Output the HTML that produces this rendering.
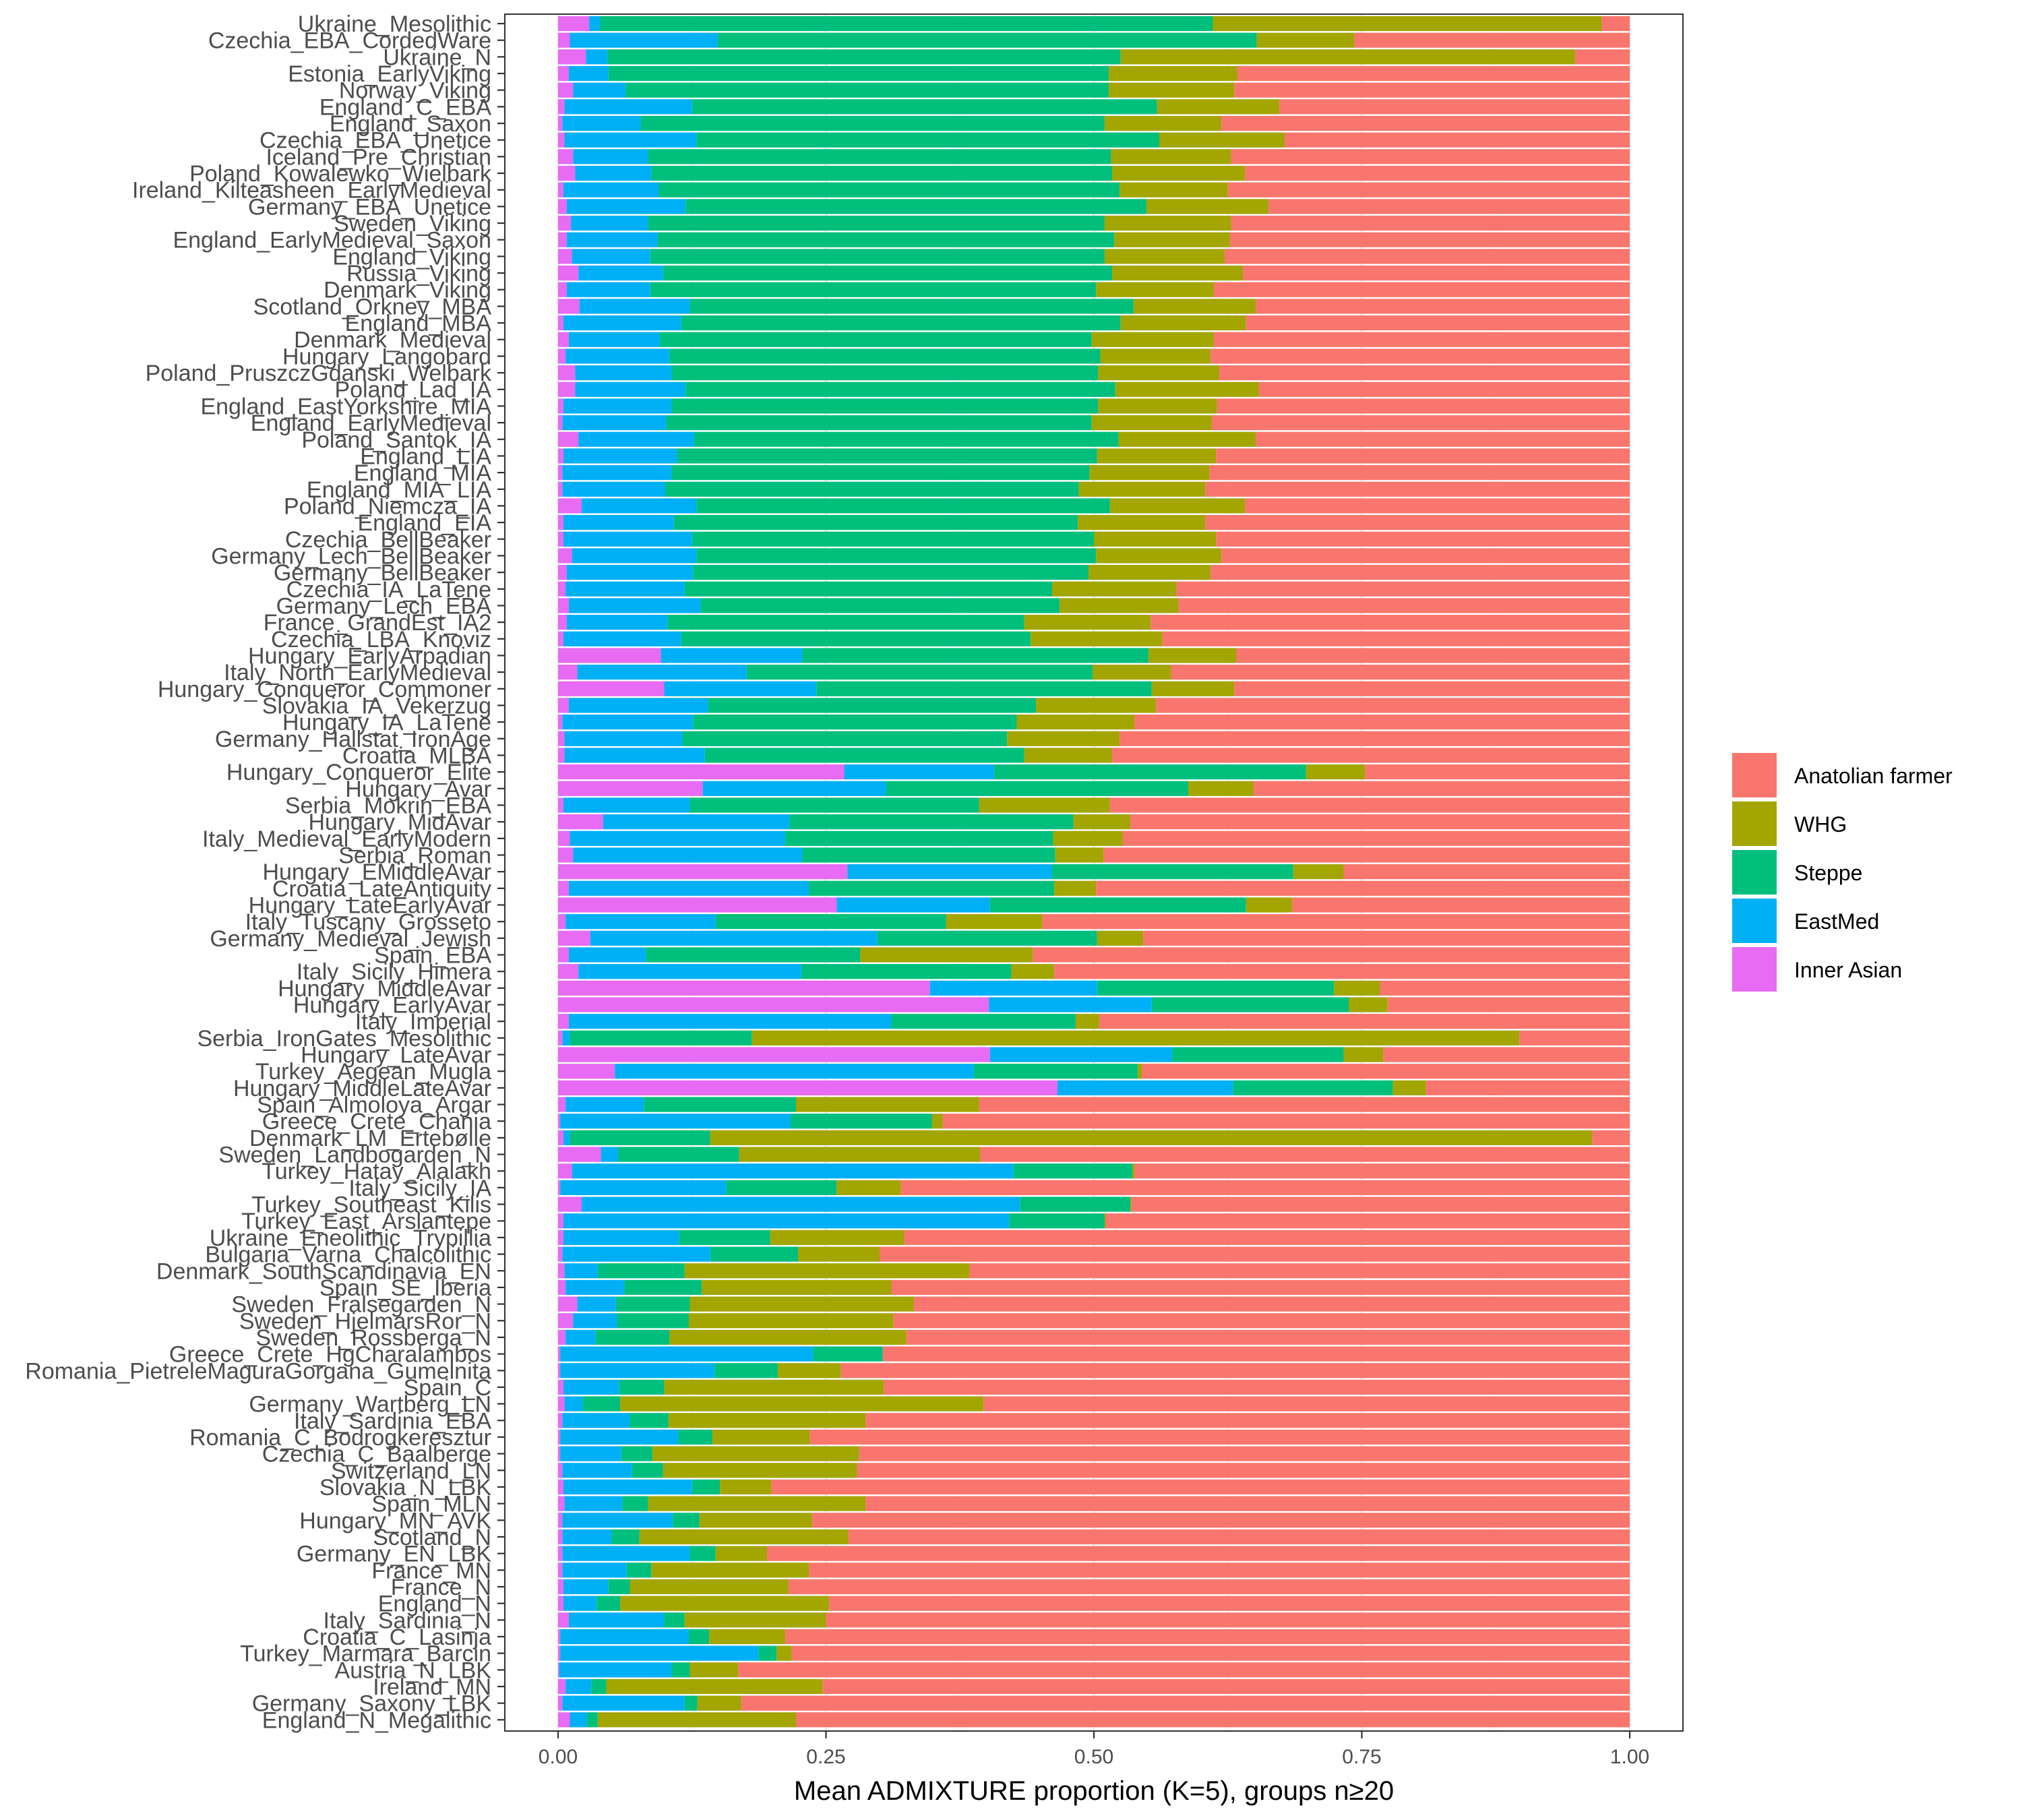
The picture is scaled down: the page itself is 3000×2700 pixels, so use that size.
<!DOCTYPE html>
<html>
<head>
<meta charset="utf-8">
<style>
html,body{margin:0;padding:0;background:#fff;}
svg{display:block;}
text{font-family:"Liberation Sans",sans-serif;}
</style>
</head>
<body>
<svg id="chart" width="3000" height="2700" viewBox="0 0 3000 2700" xmlns="http://www.w3.org/2000/svg">
<rect x="0" y="0" width="3000" height="2700" fill="#fff"/>
<g id="grid"></g>
<g id="bars"></g>
<rect x="749" y="21" width="1748" height="2547" fill="none" stroke="#333" stroke-width="2"/>
<g id="yaxis"></g>
<g id="xaxis"></g>
<text x="1623" y="2670" text-anchor="middle" font-size="40" fill="#000">Mean ADMIXTURE proportion (K=5), groups n≥20</text>
<g id="legend"></g>
</svg>
<script>
const groups = ["Ukraine_Mesolithic","Czechia_EBA_CordedWare","Ukraine_N","Estonia_EarlyViking","Norway_Viking","England_C_EBA","England_Saxon","Czechia_EBA_Unetice","Iceland_Pre_Christian","Poland_Kowalewko_Wielbark","Ireland_Kilteasheen_EarlyMedieval","Germany_EBA_Unetice","Sweden_Viking","England_EarlyMedieval_Saxon","England_Viking","Russia_Viking","Denmark_Viking","Scotland_Orkney_MBA","England_MBA","Denmark_Medieval","Hungary_Langobard","Poland_PruszczGdanski_Welbark","Poland_Lad_IA","England_EastYorkshire_MIA","England_EarlyMedieval","Poland_Santok_IA","England_LIA","England_MIA","England_MIA_LIA","Poland_Niemcza_IA","England_EIA","Czechia_BellBeaker","Germany_Lech_BellBeaker","Germany_BellBeaker","Czechia_IA_LaTene","Germany_Lech_EBA","France_GrandEst_IA2","Czechia_LBA_Knoviz","Hungary_EarlyArpadian","Italy_North_EarlyMedieval","Hungary_Conqueror_Commoner","Slovakia_IA_Vekerzug","Hungary_IA_LaTene","Germany_Hallstat_IronAge","Croatia_MLBA","Hungary_Conqueror_Elite","Hungary_Avar","Serbia_Mokrin_EBA","Hungary_MidAvar","Italy_Medieval_EarlyModern","Serbia_Roman","Hungary_EMiddleAvar","Croatia_LateAntiquity","Hungary_LateEarlyAvar","Italy_Tuscany_Grosseto","Germany_Medieval_Jewish","Spain_EBA","Italy_Sicily_Himera","Hungary_MiddleAvar","Hungary_EarlyAvar","Italy_Imperial","Serbia_IronGates_Mesolithic","Hungary_LateAvar","Turkey_Aegean_Mugla","Hungary_MiddleLateAvar","Spain_Almoloya_Argar","Greece_Crete_Chania","Denmark_LM_Ertebølle","Sweden_Landbogarden_N","Turkey_Hatay_Alalakh","Italy_Sicily_IA","Turkey_Southeast_Kilis","Turkey_East_Arslantepe","Ukraine_Eneolithic_Trypillia","Bulgaria_Varna_Chalcolithic","Denmark_SouthScandinavia_EN","Spain_SE_Iberia","Sweden_Fralsegarden_N","Sweden_HjelmarsRor_N","Sweden_Rossberga_N","Greece_Crete_HgCharalambos","Romania_PietreleMaguraGorgana_Gumelnita","Spain_C","Germany_Wartberg_LN","Italy_Sardinia_EBA","Romania_C_Bodrogkeresztur","Czechia_C_Baalberge","Switzerland_LN","Slovakia_N_LBK","Spain_MLN","Hungary_MN_AVK","Scotland_N","Germany_EN_LBK","France_MN","France_N","England_N","Italy_Sardinia_N","Croatia_C_Lasinja","Turkey_Marmara_Barcin","Austria_N_LBK","Ireland_MN","Germany_Saxony_LBK","England_N_Megalithic"];
// values in percent
const innerAsian = [2.9,1.1,2.6,1.0,1.4,0.6,0.4,0.6,1.4,1.6,0.5,0.8,1.2,0.8,1.3,1.9,0.8,2.0,0.5,1.0,0.7,1.6,1.6,0.5,0.4,1.9,0.5,0.4,0.4,2.2,0.5,0.5,1.3,0.8,0.7,1.0,0.8,0.5,9.6,1.8,9.9,1.0,0.4,0.6,0.6,26.7,13.5,0.5,4.2,1.1,1.4,27.0,1.0,26.0,0.7,3.0,1.0,1.9,34.7,40.2,1.0,0.4,40.3,5.3,46.6,0.7,0.2,0.5,4.0,1.3,0.2,2.2,0.5,0.5,0.4,0.6,0.7,1.8,1.4,0.7,0.2,0.2,0.5,0.6,0.4,0.2,0.2,0.4,0.5,0.6,0.4,0.4,0.4,0.4,0.5,0.5,1.0,0.2,0.2,0.1,0.7,0.4,1.1];
const eastMed = [1.0,13.8,2.0,3.7,4.9,11.9,7.3,12.3,7.0,7.1,8.9,11.1,7.2,8.5,7.3,7.9,7.8,10.3,11.0,8.5,9.7,9.0,10.3,10.1,9.7,10.8,10.6,10.2,9.6,10.7,10.3,12.0,11.6,11.8,11.1,12.3,9.4,11.0,13.2,15.8,14.2,13.0,12.2,11.0,13.1,14.0,17.1,11.8,17.4,20.1,21.4,19.1,22.4,14.3,14.0,26.8,7.2,20.8,15.6,15.2,30.1,0.7,17.0,33.5,16.4,7.3,21.5,0.6,1.6,41.2,15.5,40.9,41.6,10.8,13.8,3.1,5.5,3.6,4.1,2.8,23.6,14.4,5.2,1.7,6.3,11.0,5.7,6.5,12.0,5.4,10.3,4.6,11.9,6.0,4.2,3.1,8.9,12.0,18.5,10.5,2.4,11.4,1.6];
const steppe = [57.2,50.3,47.9,46.7,45.1,43.4,43.3,43.2,43.2,43.0,43.0,43.0,42.6,42.6,42.4,41.9,41.6,41.4,41.0,40.3,40.2,39.8,40.1,39.8,39.7,39.6,39.2,39.0,38.6,38.6,37.7,37.5,37.3,36.9,34.3,33.5,33.3,32.6,32.3,32.3,31.3,30.6,30.2,30.3,29.8,29.1,28.2,27.0,26.5,25.0,23.6,22.5,22.9,23.9,21.5,20.5,20.0,19.6,22.1,18.4,17.2,17.0,16.0,15.3,14.9,14.2,13.2,13.1,11.3,11.1,10.3,10.3,8.9,8.5,8.2,8.1,7.2,6.9,6.7,6.9,6.5,5.9,4.2,3.5,3.6,3.2,2.9,2.9,2.6,2.4,2.5,2.6,2.4,2.3,2.0,2.2,1.9,1.9,1.7,1.7,1.4,1.2,1.0];
const whg = [36.3,9.1,42.4,12.0,11.7,11.4,10.9,11.7,11.2,12.4,10.1,11.4,11.8,10.8,11.2,12.2,11.0,11.4,11.7,11.4,10.3,11.3,13.4,11.1,11.2,12.8,11.1,11.2,11.8,12.6,11.9,11.4,11.7,11.4,11.6,11.1,11.8,12.3,8.2,7.3,7.7,11.2,11.0,10.5,8.2,5.5,6.1,12.2,5.3,6.5,4.5,4.7,3.9,4.3,9.0,4.3,16.1,4.0,4.3,3.6,2.2,71.6,3.7,0.4,3.1,17.1,1.0,82.3,22.5,0.2,6.0,0.1,0.1,12.5,7.6,26.6,17.7,20.9,19.1,22.1,0.0,5.9,20.5,33.9,18.4,9.1,19.3,18.1,4.8,20.3,10.5,19.5,4.8,14.7,14.8,19.5,13.2,7.1,1.4,4.5,20.2,4.1,18.5];
const anatolian = [2.6,25.7,5.1,36.6,36.9,32.7,38.1,32.2,37.2,35.9,37.5,33.7,37.2,37.3,37.8,36.1,38.8,34.9,35.8,38.8,39.1,38.3,34.6,38.5,39.0,34.9,38.6,39.2,39.6,35.9,39.6,38.6,38.1,39.1,42.3,42.1,44.7,43.6,36.7,42.8,36.9,44.2,46.2,47.6,48.3,24.7,35.1,48.5,46.6,47.3,49.1,26.7,49.8,31.5,54.8,45.4,55.7,53.7,23.3,22.6,49.5,10.3,23.0,45.5,19.0,60.7,64.1,3.5,60.6,46.2,68.0,46.5,48.9,67.7,70.0,61.6,68.9,66.8,68.7,67.5,69.7,73.6,69.6,60.3,71.3,76.5,71.9,72.1,80.1,71.3,76.3,72.9,80.5,76.6,78.5,74.7,75.0,78.8,78.2,83.2,75.3,82.9,77.8];
const xTicks = [0,0.25,0.5,0.75,1];
const xTickLabels = ["0.00","0.25","0.50","0.75","1.00"];
const seriesNames = ["Inner Asian","EastMed","Steppe","WHG","Anatolian farmer"];
const legendOrder = ["Anatolian farmer","WHG","Steppe","EastMed","Inner Asian"];

const colors = {"Inner Asian":"#E76BF3","EastMed":"#00B0F6","Steppe":"#00BF7D","WHG":"#A3A500","Anatolian farmer":"#F8766D"};
const NS = "http://www.w3.org/2000/svg";
const X0 = 828, X1 = 2418;
const xs = v => X0 + v * (X1 - X0);
const Y0 = 35, PITCH = 24.67;
const ys = i => Y0 + i * PITCH;
const BH = PITCH * 0.9;
const PTOP = 21, PBOT = 2568;

function mk(tag, attrs, parent){ const e = document.createElementNS(NS, tag); for (const k in attrs) e.setAttribute(k, attrs[k]); parent.appendChild(e); return e; }

const grid = document.getElementById('grid');
[0.125,0.375,0.625,0.875].forEach(v=>{
  const l = mk('line',{x1:xs(v),x2:xs(v),y1:PTOP,y2:PBOT,stroke:'#f2f2f2','stroke-width':1.5},grid);
  
  
});
xTicks.forEach(v=>{
  const l = mk('line',{x1:xs(v),x2:xs(v),y1:PTOP,y2:PBOT,stroke:'#ebebeb','stroke-width':3},grid);
  
  
});

const bars = document.getElementById('bars');
const seriesData = [innerAsian, eastMed, steppe, whg, anatolian];
groups.forEach((g,i)=>{
  let cum = 0;
  seriesData.forEach((arr,s)=>{
    const v = arr[i]/100;
    if (v <= 0) return;
    const r = mk('rect',{x:xs(cum),y:ys(i)-BH/2,width:xs(cum+v)-xs(cum),height:BH,fill:colors[seriesNames[s]]},bars);
    
    
    cum += v;
  });
});

const yaxis = document.getElementById('yaxis');
groups.forEach((g,i)=>{
  const t = mk('line',{x1:738,x2:749,y1:ys(i),y2:ys(i),stroke:'#333','stroke-width':2.2},yaxis);
  
  
  const tx = mk('text',{x:729,y:ys(i)+12,'text-anchor':'end','font-size':34,fill:'#4d4d4d'},yaxis);
  tx.textContent = g;
  
  
});

const xaxis = document.getElementById('xaxis');
xTicks.forEach((v,i)=>{
  const t = mk('line',{x1:xs(v),x2:xs(v),y1:PBOT,y2:PBOT+11,stroke:'#333','stroke-width':2.2},xaxis);
  
  
  const tx = mk('text',{x:xs(v),y:2616,'text-anchor':'middle','font-size':30,fill:'#4d4d4d'},xaxis);
  tx.textContent = xTickLabels[i];
  
  
});

const legend = document.getElementById('legend');
legendOrder.forEach((n,i)=>{
  const y = 1117 + i*72;
  const r = mk('rect',{x:2570,y:y,width:66,height:66,fill:colors[n]},legend);
  
  
  const t = mk('text',{x:2662,y:y+45,'font-size':32,fill:'#000'},legend);
  t.textContent = n;
  
  
});
</script>
</body>
</html>
